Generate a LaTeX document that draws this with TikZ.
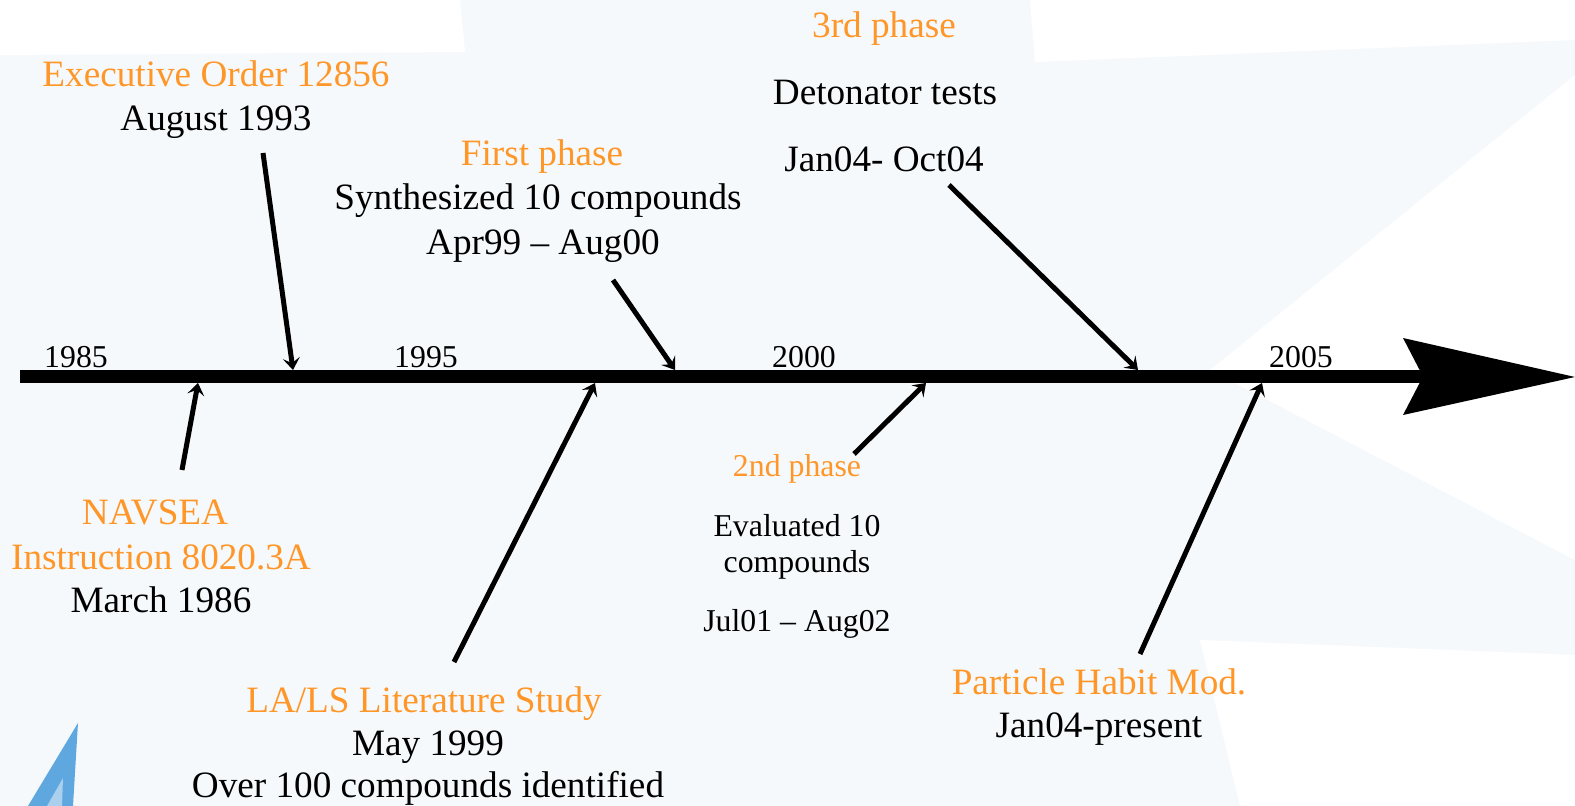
\documentclass[tikz,border=0pt]{standalone}
\usepackage{fontspec}
\setmainfont{Liberation Serif}
\usetikzlibrary{arrows.meta}
\definecolor{evorange}{RGB}{255,150,40}
\definecolor{pale}{RGB}{246,249,252}
\definecolor{tipblue}{RGB}{95,168,223}
\definecolor{tiplight}{RGB}{170,208,238}
\tikzset{
  big/.style={font=\fontsize{18.6}{22}\selectfont, inner sep=0pt, anchor=base},
  small/.style={font=\fontsize{15.9}{19}\selectfont, inner sep=0pt, anchor=base},
  hl/.style={text=evorange},
  pointer/.style={line width=2.5pt, -{Stealth[length=6pt,width=8.5pt,inset=2.5pt]}},
}
\begin{document}
\begin{tikzpicture}[x=0.5pt,y=-0.5pt]
\useasboundingbox (0,0) rectangle (1575,806);
% faint background watermark
\fill[pale] (0,0) rectangle (1575,806);
\fill[white] (0,0) -- (460,0) -- (465,52) -- (0,55) -- cycle;
\fill[white] (1030,0) -- (1575,0) -- (1575,40) -- (1035,62) -- cycle;
\fill[white] (1575,75) -- (1210,370) -- (1575,560) -- cycle;
\fill[white] (1200,640) -- (1575,655) -- (1575,806) -- (1240,806) -- cycle;
\fill[tipblue] (78,723) -- (28,806) -- (73,806) -- cycle;
\fill[tiplight] (63,778) -- (47,806) -- (62,806) -- cycle;

% timeline
\coordinate (t0) at (20,376.5);
\coordinate (t1) at (1425,376.5);
\draw[line width=6.5pt] (t0) -- (t1);
\fill (1403,338) -- (1575,377) -- (1403,415) -- (1423,376.5) -- cycle;

% years
\node[small] (y1985) at (76,368) {1985};
\node[small] (y1995) at (426,368) {1995};
\node[small] (y2000) at (804,368) {2000};
\node[small] (y2005) at (1301,368) {2005};

% texts above
\node[big,hl] (eo1) at (216,87) {Executive Order 12856};
\node[big] (eo2) at (216,131) {August 1993};
\node[big,hl] (fp1) at (542,166) {First phase};
\node[big] (fp2) at (538,210) {Synthesized 10 compounds};
\node[big] (fp3) at (543,255) {Apr99 – Aug00};
\node[big,hl] (tp1) at (884,38) {3rd phase};
\node[big] (tp2) at (885,105) {Detonator tests};
\node[big] (tp3) at (884,172) {Jan04- Oct04};

% texts below
\node[big,hl] (nv1) at (155,525) {NAVSEA};
\node[big,hl] (nv2) at (161,570) {Instruction 8020.3A};
\node[big] (nv3) at (161,613) {March 1986};
\node[big,hl] (ls1) at (424,712) {LA/LS Literature Study};
\node[big] (ls2) at (428,755) {May 1999};
\node[big] (ls3) at (428,798) {Over 100 compounds identified};
\node[small,hl] (sp1) at (797,477) {2nd phase};
\node[small] (sp2) at (797,537) {Evaluated 10};
\node[small] (sp3) at (797,573) {compounds};
\node[small] (sp4) at (797,632) {Jul01 – Aug02};
\node[big,hl] (ph1) at (1099,695) {Particle Habit Mod.};
\node[big] (ph2) at (1099,738) {Jan04-present};

% pointer coordinates
\coordinate (eoS) at (263,153);  \coordinate (eoE) at (293,370);
\coordinate (fpS) at (613,280);  \coordinate (fpE) at (675,370);
\coordinate (tpS) at (949,185);  \coordinate (tpE) at (1138,370);
\coordinate (nvS) at (182,470);  \coordinate (nvE) at (198,383);
\coordinate (lsS) at (454,662);  \coordinate (lsE) at (595,383);
\coordinate (spS) at (854,454);  \coordinate (spE) at (926,383);
\coordinate (phS) at (1140,654); \coordinate (phE) at (1262,383);

\draw[pointer] (eoS) -- (eoE);
\draw[pointer] (fpS) -- (fpE);
\draw[pointer] (tpS) -- (tpE);
\draw[pointer] (nvS) -- (nvE);
\draw[pointer] (lsS) -- (lsE);
\draw[pointer] (spS) -- (spE);
\draw[pointer] (phS) -- (phE);
\end{tikzpicture}
\end{document}
